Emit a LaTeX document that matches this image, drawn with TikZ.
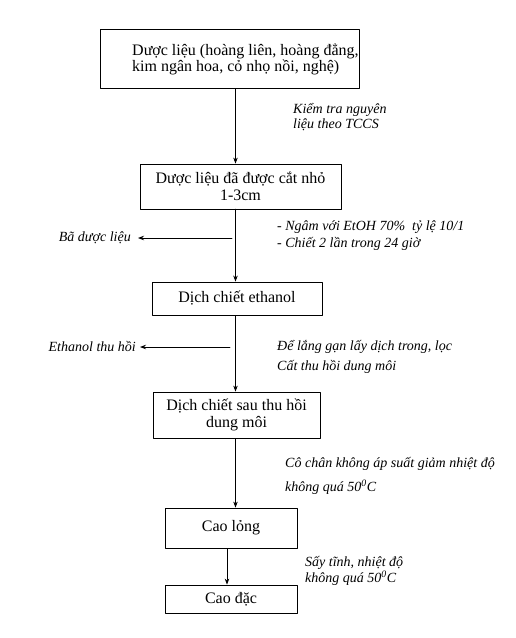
\documentclass[tikz,border=0pt]{standalone}
\usepackage{fontspec}
\setmainfont{Liberation Serif}
\usetikzlibrary{arrows.meta}
\begin{document}
\begin{tikzpicture}[x=1pt,y=-1pt,>={Stealth[length=6pt,width=4.5pt]},line cap=round,line join=round,
  box/.style={draw,line width=.8pt,inner sep=0pt,align=center,font=\fontsize{16}{17}\selectfont},
  note/.style={anchor=west,inner sep=0pt,font=\fontsize{14}{15}\selectfont\itshape},
  flow/.style={->,line width=.8pt}]
  \useasboundingbox (0,0) rectangle (516,638);
  \coordinate (col) at (235.5,0);
  \coordinate (colb) at (227,0);
  % boxes
  \node[box,minimum width=259,minimum height=59] (raw) at (229.5,58.5) {};
  \node[inner sep=0pt,anchor=west,align=left,font=\fontsize{16}{15}\selectfont] (rawtxt) at (132,59)
    {Dược liệu (hoàng liên, hoàng đẳng,\\kim ngân hoa, cỏ nhọ nồi, nghệ)};
  \node[box,minimum width=201,minimum height=45] (cut) at (240.5,186.5) {Dược liệu đã được cắt nhỏ\\1-3cm};
  \node[box,minimum width=170,minimum height=33] (eth) at (237,298.5) {Dịch chiết ethanol};
  \node[box,minimum width=167,minimum height=46] (rec) at (236.5,415) {Dịch chiết sau thu hồi\\dung môi};
  \node[box,minimum width=132,minimum height=40] (liq) at (231,528) {Cao lỏng};
  \node[box,minimum width=132,minimum height=28] (thk) at (231,599) {Cao đặc};
  % main flow
  \draw[flow] (raw.south -| col) -- (cut.north -| col);
  \draw[flow,line width=1.6pt] (cut.south -| col) -- (eth.north -| col);
  \draw[flow] (eth.south -| col) -- (rec.north -| col);
  \draw[flow] (rec.south -| col) -- (liq.north -| col);
  \draw[flow] (liq.south -| colb) -- (thk.north -| colb);
  % side outputs
  \node[note,anchor=east] (res) at (131,238) {Bã dược liệu};
  \coordinate (resfrom) at (232,238);
  \draw[flow,shorten >=7] (resfrom) -- (res);
  \node[note,anchor=east] (etr) at (136,347) {Ethanol thu hồi};
  \coordinate (etrfrom) at (230,347);
  \draw[flow,shorten >=4] (etrfrom) -- (etr);
  % step notes
  \node[note] (chka) at (293,110) {Kiểm tra nguyên};
  \node[note] (chkb) at (293,125) {liệu theo TCCS};
  \node[note] (maca) at (277,227) {- Ngâm với EtOH 70\%\ \ tỷ lệ 10/1};
  \node[note] (macb) at (277,244) {- Chiết 2 lần trong 24 giờ};
  \node[note] (fila) at (277,347) {Để lắng gạn lấy dịch trong, lọc};
  \node[note] (filb) at (277,367) {Cất thu hồi dung môi};
  \node[note] (evpa) at (285,464) {Cô chân không áp suất giảm nhiệt độ};
  \node[note] (evpb) at (285,487) {không quá 50\textsuperscript{0}C};
  \node[note] (drya) at (305,563) {Sấy tĩnh, nhiệt độ};
  \node[note] (dryb) at (305,578) {không quá 50\textsuperscript{0}C};
\end{tikzpicture}
\end{document}
